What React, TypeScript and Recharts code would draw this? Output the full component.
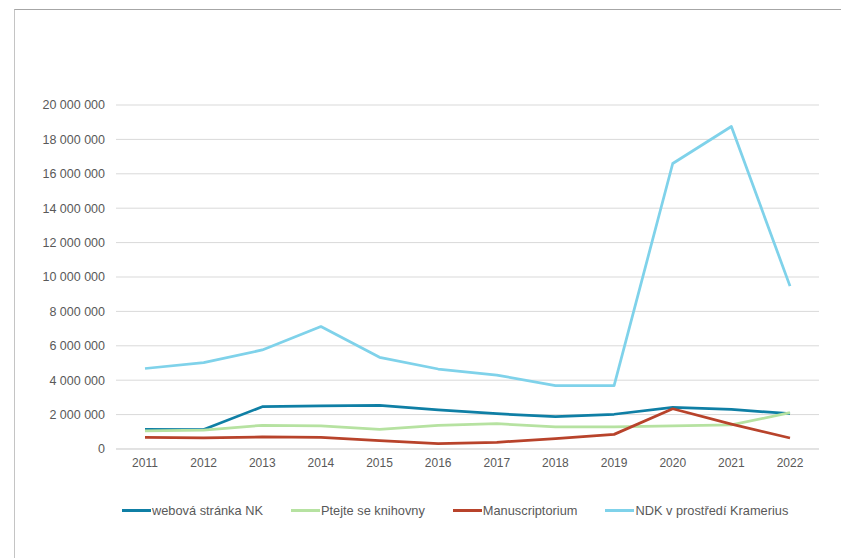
import { LineChart, Line, XAxis, YAxis, CartesianGrid } from "recharts"

const years = ["2011", "2012", "2013", "2014", "2015", "2016", "2017", "2018", "2019", "2020", "2021", "2022"]

const webNK = [1140000, 1130000, 2460000, 2510000, 2530000, 2270000, 2050000, 1880000, 2020000, 2420000, 2310000, 2050000]
const ptejte = [1050000, 1100000, 1380000, 1340000, 1140000, 1380000, 1470000, 1280000, 1280000, 1340000, 1400000, 2110000]
const manuscriptorium = [680000, 640000, 700000, 680000, 480000, 310000, 390000, 600000, 850000, 2340000, 1450000, 640000]
const kramerius = [4680000, 5020000, 5760000, 7120000, 5330000, 4650000, 4300000, 3690000, 3690000, 16600000, 18750000, 9470000]

const yTicks = [0, 2000000, 4000000, 6000000, 8000000, 10000000, 12000000, 14000000, 16000000, 18000000, 20000000]

const series = [
  { key: "web", name: "webová stránka NK", color: "#0f7fa5", values: webNK },
  { key: "ptejte", name: "Ptejte se knihovny", color: "#b6e2a1", values: ptejte },
  { key: "manu", name: "Manuscriptorium", color: "#b8432b", values: manuscriptorium },
  { key: "ndk", name: "NDK v prostředí Kramerius", color: "#7fd2ea", values: kramerius },
]

const data = years.map((year, i) => {
  const row: Record<string, string | number> = { year }
  series.forEach((s) => {
    row[s.key] = s.values[i]
  })
  return row
})

const fmt = (v: number) => String(v).replace(/\B(?=(\d{3})+(?!\d))/g, " ")

const font = "'Liberation Sans', Arial, sans-serif"

export default function App() {
  return (
    <div style={{ position: "absolute", left: 0, top: 0, width: 841, height: 558, background: "#fff", overflow: "hidden", fontFamily: font }}>
      <div
        style={{
          position: "absolute",
          left: 14,
          top: 9,
          width: 840,
          height: 560,
          borderTop: "1px solid #a6a6a6",
          borderLeft: "1px solid #c4c4c4",
        }}
      />
      <div style={{ position: "absolute", left: 0, top: 0 }}>
        <LineChart width={841} height={558} data={data} margin={{ top: 105, right: 22, bottom: 79, left: 0 }}>
          <CartesianGrid vertical={false} stroke="#d9d9d9" strokeWidth={1} />
          <XAxis
            dataKey="year"
            height={30}
            padding={{ left: 29, right: 29 }}
            axisLine={{ stroke: "#d9d9d9" }}
            tickLine={false}
            tickSize={0}
            tickMargin={9}
            tick={{ fill: "#595959", fontSize: 12, fontFamily: font }}
            interval={0}
          />
          <YAxis
            width={116}
            domain={[0, 20000000]}
            ticks={yTicks}
            axisLine={false}
            tickLine={false}
            tickSize={0}
            tickMargin={11}
            tickFormatter={fmt}
            tick={{ fill: "#595959", fontSize: 12.5, fontFamily: font }}
          />
          {series.map((s) => (
            <Line
              key={s.key}
              dataKey={s.key}
              name={s.name}
              stroke={s.color}
              strokeWidth={2.75}
              strokeLinejoin="round"
              dot={false}
              activeDot={false}
              type="linear"
              isAnimationActive={false}
            />
          ))}
        </LineChart>
      </div>
      <div
        style={{
          position: "absolute",
          left: 122,
          top: 502,
          display: "flex",
          alignItems: "center",
          gap: 28,
          fontSize: 12.8,
          color: "#595959",
          whiteSpace: "nowrap",
        }}
      >
        {series.map((s) => (
          <div key={s.key} style={{ display: "flex", alignItems: "center", height: 16 }}>
            <span style={{ display: "inline-block", width: 29, height: 3, background: s.color, marginRight: 1 }} />
            <span>{s.name}</span>
          </div>
        ))}
      </div>
    </div>
  )
}
